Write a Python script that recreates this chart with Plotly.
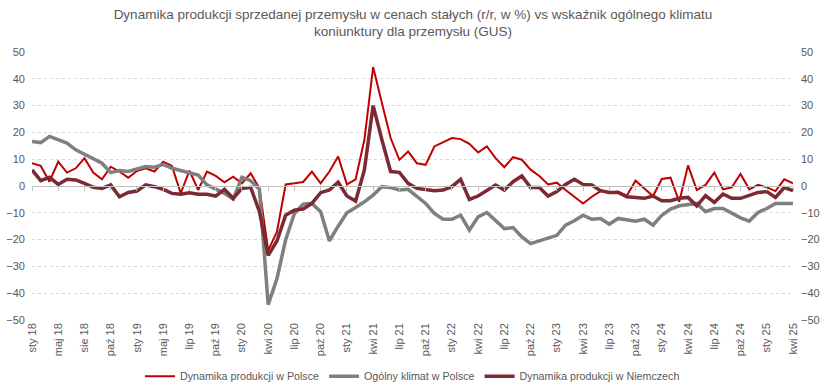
import plotly.graph_objects as go

# Monthly index 0..87 (sty 18 .. kwi 25)
tick_labels = ["sty 18", "maj 18", "sie 18", "paź 18", "sty 19", "maj 19", "lip 19", "paź 19",
               "sty 20", "kwi 20", "lip 20", "paź 20", "sty 21", "kwi 21", "lip 21", "paź 21",
               "sty 22", "kwi 22", "lip 22", "paź 22", "sty 23", "kwi 23", "lip 23", "paź 23",
               "sty 24", "kwi 24", "lip 24", "paź 24", "sty 25", "kwi 25"]

prod_pl = [8.5, 7.5, 1.6, 9.1, 5.0, 6.6, 10.4, 5.0, 2.5, 7.2, 5.4, 3.1,
           5.6, 6.6, 5.4, 9.1, 7.5, -2.7, 5.7, -1.5, 5.4, 3.8, 1.4, 3.5,
           1.0, 4.75, -0.9, -24.0, -17.1, 0.6, 1.0, 1.5, 5.4, 1.0, 5.4, 11.0,
           0.6, 2.5, 17.25, 44.4, 31.0, 17.9, 9.75, 12.9, 8.5, 7.9, 14.75, 16.25,
           17.9, 17.5, 15.75, 12.5, 14.75, 10.4, 7.0, 10.75, 9.8, 6.1, 3.75, 0.6,
           1.25, -1.5, -4.0, -6.5, -4.0, -1.9, -2.5, -2.1, -3.6, 2.0, -0.9, -3.75,
           2.6, 3.1, -5.9, 7.7, -1.5, 0.4, 5.0, -1.25, -0.5, 4.5, -1.25, 0.4,
           -0.5, -1.9, 2.5, 1.0]

klimat_pl = [16.6, 16.2, 18.5, 17.2, 16.0, 13.5, 11.9, 10.0, 8.5, 5.0, 5.75, 5.4,
             6.25, 7.25, 7.0, 8.1, 6.6, 5.75, 4.75, 4.1, 0.4, -1.25, -2.75, -4.9,
             3.25, 2.0, -1.25, -44.25, -34.6, -20.0, -10.25, -6.75, -6.5, -9.6, -20.5, -15.0,
             -10.0, -8.0, -5.9, -3.4, -0.25, -0.6, -1.5, -1.25, -4.0, -6.5, -10.25, -12.4,
             -12.4, -10.9, -16.5, -11.5, -9.9, -13.1, -15.9, -15.5, -19.0, -21.5, -20.5, -19.25,
             -18.4, -14.6, -13.0, -10.9, -12.4, -12.1, -14.25, -12.1, -12.75, -13.1, -12.4, -14.6,
             -10.9, -8.6, -7.4, -7.1, -6.5, -9.6, -8.4, -8.4, -10.25, -11.9, -13.1, -9.9,
             -8.4, -6.5, -6.5, -6.5]

prod_de = [6.0, 2.0, 3.25, 0.6, 2.5, 2.25, 1.0, -0.5, -0.9, 0.4, -4.0, -2.4,
           -1.9, 0.4, -0.25, -1.25, -2.75, -3.1, -2.5, -3.1, -3.1, -3.75, -1.25, -4.6,
           -0.9, -0.5, -9.6, -25.9, -20.5, -10.9, -9.0, -8.6, -6.5, -2.5, -1.5, 1.4,
           -3.75, -5.6, 6.0, 30.0, 17.25, 5.4, 5.1, 1.0, -0.9, -1.25, -1.75, -1.5,
           -0.25, 2.5, -5.0, -3.75, -1.75, 0.4, -1.5, 1.6, 3.75, -0.6, -0.6, -3.75,
           -2.1, 0.6, 2.5, 0.6, 0.4, -1.75, -2.4, -2.4, -4.0, -4.25, -4.6, -3.75,
           -5.5, -5.5, -4.6, -4.25, -7.4, -3.6, -6.1, -3.0, -4.6, -4.6, -3.4, -2.4,
           -2.1, -4.25, -0.6, -1.75]

x = list(range(len(prod_pl)))
tick_vals = list(range(0, len(prod_pl), 3))

FONT = "Liberation Sans, Arial, sans-serif"
TXT = "#595959"
GRID = "#D9D9D9"

fig = go.Figure()
fig.add_trace(go.Scatter(x=x, y=prod_pl, mode="lines", name="Dynamika produkcji w Polsce",
                         line=dict(color="#C00000", width=2)))
fig.add_trace(go.Scatter(x=x, y=klimat_pl, mode="lines", name="Ogólny klimat w Polsce",
                         line=dict(color="#7F7F7F", width=3.5)))
fig.add_trace(go.Scatter(x=x, y=prod_de, mode="lines", name="Dynamika produkcji w Niemczech",
                         line=dict(color="#7B2932", width=3.5)))
# invisible helper trace to draw the right axis and the zero-line axis with ticks
fig.add_trace(go.Scatter(x=x, y=prod_pl, mode="lines", xaxis="x2", yaxis="y2",
                         line=dict(color="rgba(0,0,0,0)", width=0), showlegend=False,
                         hoverinfo="skip"))

fig.update_layout(
    width=826, height=392,
    margin=dict(l=32, r=33, t=52, b=72, autoexpand=False),
    paper_bgcolor="white", plot_bgcolor="white",
    font=dict(family=FONT, size=11, color=TXT),
    title=dict(text="Dynamika produkcji sprzedanej przemysłu w cenach stałych (r/r, w %) vs wskaźnik ogólnego klimatu<br>koniunktury dla przemysłu (GUS)",
               x=0.5, xanchor="center", y=0.952, yanchor="top",
               font=dict(family=FONT, size=13.5, color=TXT)),
    showlegend=True,
    legend=dict(orientation="h", x=0.5, xanchor="center", y=-0.21, yanchor="middle",
                font=dict(family=FONT, size=10.7, color=TXT), bgcolor="rgba(0,0,0,0)"),
    xaxis=dict(range=[0, 87], tickvals=tick_vals, ticktext=tick_labels, tickangle=-90,
               showgrid=False, zeroline=False, showline=False, ticks="",
               tickfont=dict(family=FONT, size=11, color=TXT)),
    xaxis2=dict(range=[0, 87], overlaying="x", anchor="free", position=0.5, side="bottom",
                tickvals=tick_vals, showticklabels=False, ticks="outside", ticklen=4,
                tickcolor="#BFBFBF", showline=True, linecolor="#BFBFBF", linewidth=1,
                showgrid=False, zeroline=False),
    yaxis=dict(range=[-50, 50], dtick=10, showgrid=True, gridcolor=GRID, griddash="dot",
               gridwidth=1, zeroline=False, showline=False, ticks="",
               ticklabelstandoff=6,
               tickfont=dict(family=FONT, size=11, color=TXT)),
    yaxis2=dict(range=[-50, 50], dtick=10, overlaying="y", side="right", showgrid=False,
                zeroline=False, showline=False, ticks="", ticklabelstandoff=7,
                tickfont=dict(family=FONT, size=11, color=TXT)),
)

fig.write_html("out.html", config={"displayModeBar": False},
               post_script="document.body.style.margin='0';document.body.style.overflow='hidden';")
